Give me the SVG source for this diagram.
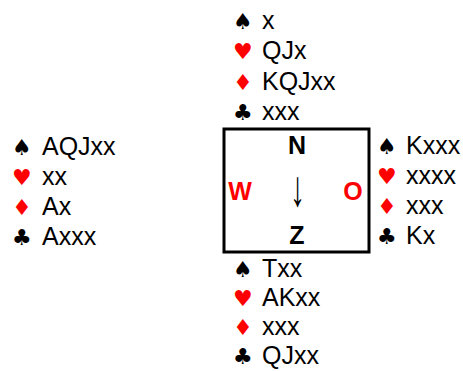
<svg xmlns="http://www.w3.org/2000/svg" width="463" height="371" viewBox="0 0 463 371">
<style>
.s{font-family:"Liberation Sans",Arial,sans-serif;font-size:25px;fill:#000}
.r{fill:#ff0000}
.sym{font-family:"DejaVu Sans","Liberation Sans",sans-serif;font-size:22px}
.lab{font-family:"Liberation Sans",Arial,sans-serif;font-size:25px;font-weight:bold;text-anchor:middle}
.arr{font-family:"Liberation Sans",Arial,sans-serif;font-size:30px;fill:#000;text-anchor:middle}
</style>
<rect width="463" height="371" fill="#fff"/>
<g id="north">
<text class="s sym" x="233" y="29">♠</text><text class="s" x="262" y="29">x</text>
<text class="s sym r" x="233" y="59">♥</text><text class="s" x="262" y="59">QJx</text>
<text class="s sym r" x="233" y="90">♦</text><text class="s" x="262" y="90">KQJxx</text>
<text class="s sym" x="233" y="120">♣</text><text class="s" x="262" y="120">xxx</text>
</g>
<g id="west">
<text class="s sym" x="12" y="155">♠</text><text class="s" x="42" y="155">AQJxx</text>
<text class="s sym r" x="12" y="185">♥</text><text class="s" x="42" y="185">xx</text>
<text class="s sym r" x="12" y="215">♦</text><text class="s" x="42" y="215">Ax</text>
<text class="s sym" x="12" y="245">♣</text><text class="s" x="42" y="245">Axxx</text>
</g>
<g id="east">
<text class="s sym" x="377" y="154">♠</text><text class="s" x="406" y="154">Kxxx</text>
<text class="s sym r" x="377" y="184">♥</text><text class="s" x="406" y="184">xxxx</text>
<text class="s sym r" x="377" y="214">♦</text><text class="s" x="406" y="214">xxx</text>
<text class="s sym" x="377" y="244">♣</text><text class="s" x="406" y="244">Kx</text>
</g>
<g id="south">
<text class="s sym" x="233" y="277">♠</text><text class="s" x="262" y="277">Txx</text>
<text class="s sym r" x="233" y="306">♥</text><text class="s" x="262" y="306">AKxx</text>
<text class="s sym r" x="233" y="335">♦</text><text class="s" x="262" y="335">xxx</text>
<text class="s sym" x="233" y="364">♣</text><text class="s" x="262" y="364">QJxx</text>
</g>
<g id="table">
<rect x="224" y="129" width="145" height="123" fill="none" stroke="#000" stroke-width="3"/>
<text class="lab" x="297" y="154">N</text>
<text class="lab r" x="240" y="200">W</text>
<text class="lab r" x="353" y="200">O</text>
<text class="lab" x="297" y="244">Z</text>
<text class="arr" transform="translate(297.5,206) scale(1,1.7)">↓</text>
</g>
</svg>
